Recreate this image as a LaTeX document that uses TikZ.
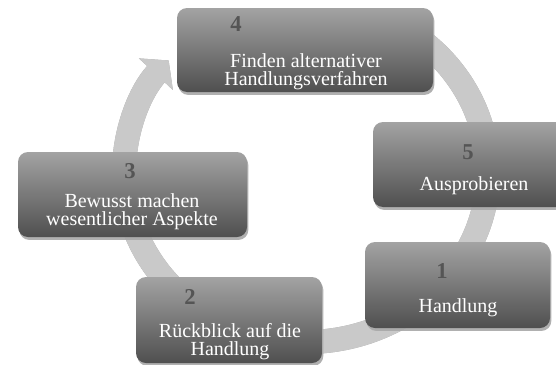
\documentclass[tikz,border=0pt]{standalone}
\usepackage{fontspec}
\setmainfont{Liberation Serif}
\usetikzlibrary{arrows.meta,shadows}
\definecolor{btop}{HTML}{A3A3A3}
\definecolor{bbot}{HTML}{4F4F4F}
\definecolor{numc}{HTML}{555555}
\definecolor{bandc}{HTML}{C9C9C9}
\definecolor{bands}{HTML}{A2A2A2}
\definecolor{shad}{HTML}{A8A8A8}
\begin{document}
\begin{tikzpicture}[x=0.75pt,y=-0.75pt,
  box/.style={rounded corners=7.5pt, top color=btop, bottom color=bbot, draw=none, inner sep=0pt,
    drop shadow={shadow xshift=1pt, shadow yshift=-2.2pt, fill=shad, opacity=0.9}},
  num/.style={font=\fontsize{17}{17}\selectfont\bfseries, text=numc, inner sep=0pt},
  lbl/.style={font=\fontsize{15}{13.5}\selectfont, text=white, align=center, inner sep=0pt},
  band/.style={line width=18pt, -{Triangle[width=34pt,length=14pt]}},
]
\useasboundingbox (0,0) rectangle (556,364);
\clip (0,0) rectangle (556,364);
\fill[white] (0,0) rectangle (556,364);

% cycle arrow (shadow, then band)
\coordinate (arcstart) at (397,24.8);
\draw[band, draw=bands, shift={(1,3)}] (arcstart) arc[start angle=-60,end angle=221,x radius=182,y radius=170];
\draw[band, draw=bandc] (arcstart) arc[start angle=-60,end angle=221,x radius=182,y radius=170];

% boxes
\node[box, minimum width=192pt, minimum height=63pt] (b4) at (305,50) {};
\node[box, minimum width=171.75pt, minimum height=63.75pt] (b3) at (132.5,194.5) {};
\node[box, minimum width=151.5pt, minimum height=63.75pt] (b5) at (474,164.5) {};
\node[box, minimum width=138.75pt, minimum height=64.5pt] (b1) at (457.5,285) {};
\node[box, minimum width=139.5pt, minimum height=64.5pt] (b2) at (229,320) {};

% numbers
\node[num] (n4) at (236,24) {4};
\node[num] (n3) at (130,171) {3};
\node[num] (n5) at (468,152) {5};
\node[num] (n1) at (442,271) {1};
\node[num] (n2) at (190,297) {2};

% labels
\node[lbl] (t4) at (306,72) {Finden alternativer\\Handlungsverfahren};
\node[lbl] (t3) at (132,212) {Bewusst machen\\wesentlicher Aspekte};
\node[lbl] (t5) at (474,186) {Ausprobieren};
\node[lbl] (t1) at (458,308) {Handlung};
\node[lbl] (t2) at (230,342) {Rückblick auf die\\Handlung};
\end{tikzpicture}
\end{document}
